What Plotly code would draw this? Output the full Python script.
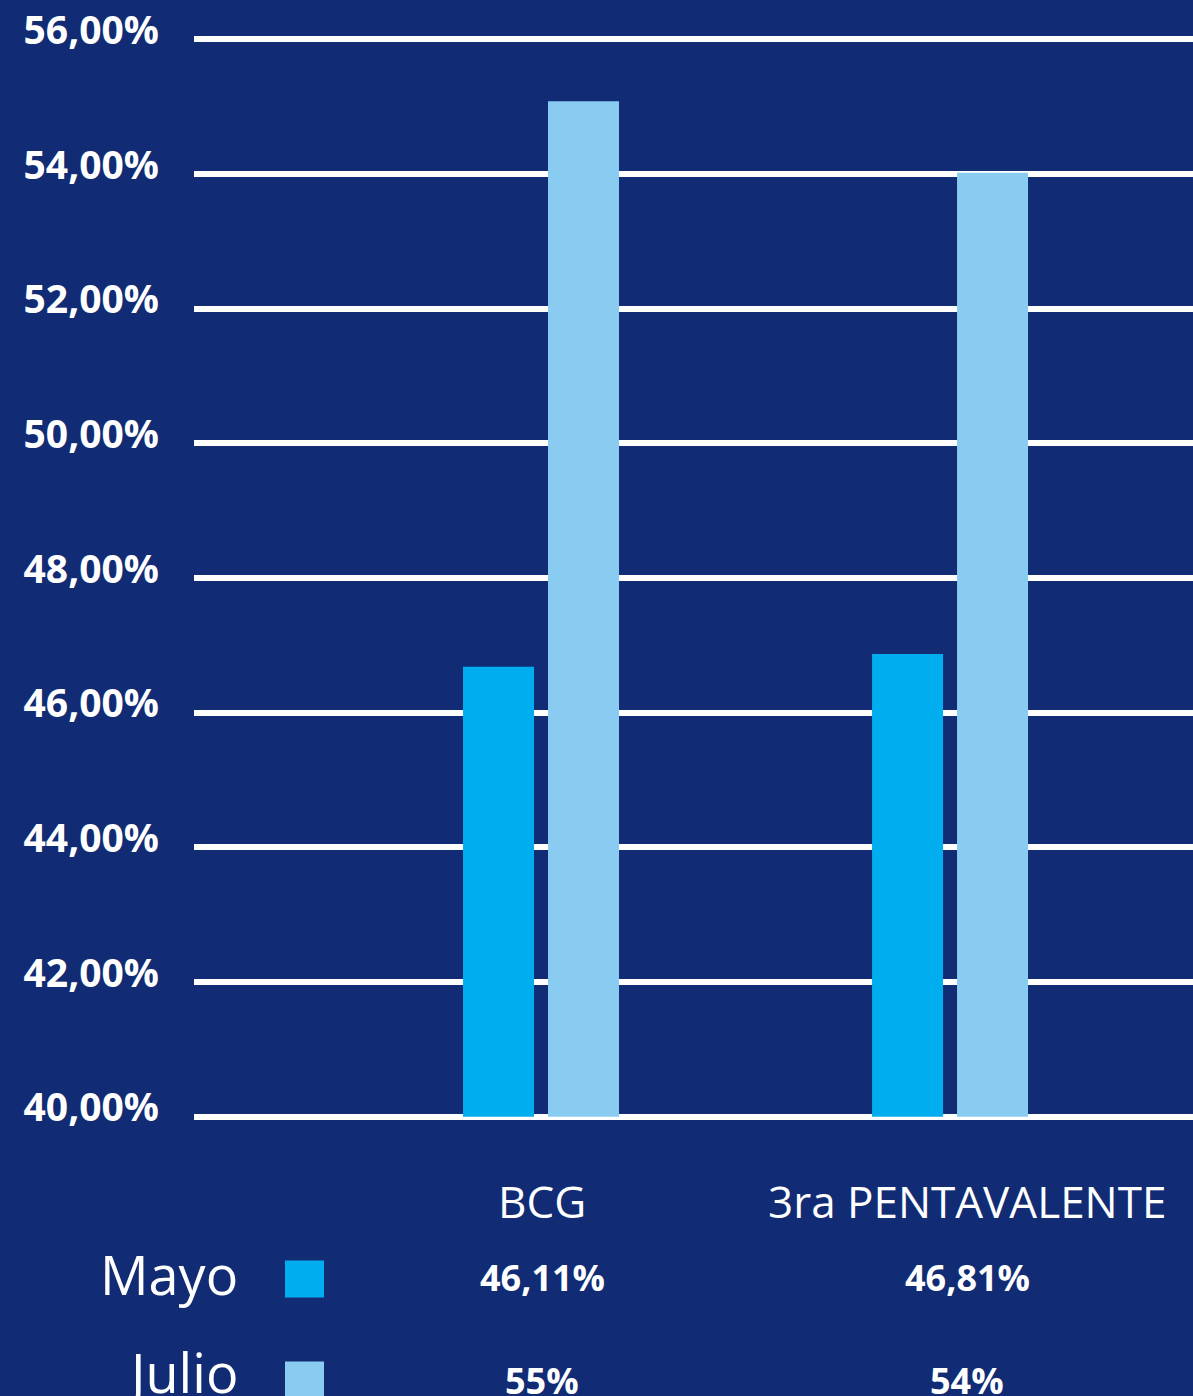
import plotly.graph_objects as go

# ---------------- data ----------------
categories = ["BCG", "3ra PENTAVALENTE"]
series_names = ["Mayo", "Julio"]
mayo_values = [46.68, 46.87]
julio_values = [55.08, 54.02]
mayo_labels = ["46,11%", "46,81%"]
julio_labels = ["55%", "54%"]
y_tick_values = [40, 42, 44, 46, 48, 50, 52, 54, 56]
y_tick_labels = ["40,00%", "42,00%", "44,00%", "46,00%", "48,00%",
                 "50,00%", "52,00%", "54,00%", "56,00%"]
axis_base = 40

# ---------------- style ----------------
W, H = 1193, 1396
BG = "#112C74"
C_MAYO = "#00ADEE"
C_JULIO = "#8ACBF1"
FONT = "Open Sans"

L, T, B = 194, 35.6, 275.6
plot_h = H - T - B


def py(pix):
    return (H - B - pix) / plot_h


def px(pix):
    return (pix - L) / (W - L)


fig = go.Figure()
fig.add_bar(
    name=series_names[0], x=categories,
    y=[v - axis_base for v in mayo_values], base=axis_base,
    marker=dict(color=C_MAYO, line=dict(width=0)),
    offset=-0.1907, width=0.1736,
)
fig.add_bar(
    name=series_names[1], x=categories,
    y=[v - axis_base for v in julio_values], base=axis_base,
    marker=dict(color=C_JULIO, line=dict(width=0)),
    offset=0.0171, width=0.1736,
)

annotations = []
col_shift = [1, 17]
for i, cat in enumerate(categories):
    annotations.append(dict(
        x=cat, xref="x", y=py(1201), yref="paper", xshift=col_shift[i],
        text=cat, showarrow=False, xanchor="center", yanchor="middle",
        font=dict(family=FONT, size=44, color="white", weight=500)))
    annotations.append(dict(
        x=cat, xref="x", y=py(1278), yref="paper", xshift=col_shift[i],
        text=mayo_labels[i], showarrow=False, xanchor="center", yanchor="middle",
        font=dict(family=FONT, size=36, color="white", weight="bold")))
    annotations.append(dict(
        x=cat, xref="x", y=py(1381), yref="paper", xshift=col_shift[i],
        text=julio_labels[i], showarrow=False, xanchor="center", yanchor="middle",
        font=dict(family=FONT, size=36, color="white", weight="bold")))

row_y = [1275, 1373]
sq_y = [(1261, 1298), (1362, 1410)]
colors = [C_MAYO, C_JULIO]
shapes = []
for name, ry, (s0, s1), c in zip(series_names, row_y, sq_y, colors):
    annotations.append(dict(
        x=px(240), xref="paper", y=py(ry), yref="paper",
        text=name, showarrow=False, xanchor="right", yanchor="middle",
        font=dict(family=FONT, size=54, color="white", weight=500)))
    shapes.append(dict(
        type="rect", xref="paper", yref="paper",
        x0=px(285), x1=px(324), y0=py(s1), y1=py(s0),
        fillcolor=c, line=dict(width=0), layer="above"))

fig.update_layout(
    width=W, height=H,
    margin=dict(l=L, r=0, t=T, b=B, pad=0),
    paper_bgcolor=BG, plot_bgcolor=BG,
    barmode="overlay",
    showlegend=False,
    annotations=annotations,
    shapes=shapes,
    xaxis=dict(
        type="category", range=[-0.8484, 1.594],
        showticklabels=False, showgrid=False, zeroline=False,
        showline=False, ticks="", fixedrange=True,
    ),
    yaxis=dict(
        range=[39.95, 56.05],
        tickvals=y_tick_values, ticktext=y_tick_labels,
        showgrid=True, gridcolor="white", gridwidth=6,
        zeroline=False, showline=False, ticks="",
        ticklabelstandoff=34, ticklabelshift=-9,
        tickfont=dict(family=FONT, size=39, color="white", weight="bold"),
        fixedrange=True,
    ),
)

fig.write_html(
    "out.html",
    config={"displayModeBar": False},
    post_script="document.body.style.margin='0';document.body.style.overflow='hidden';",
)
